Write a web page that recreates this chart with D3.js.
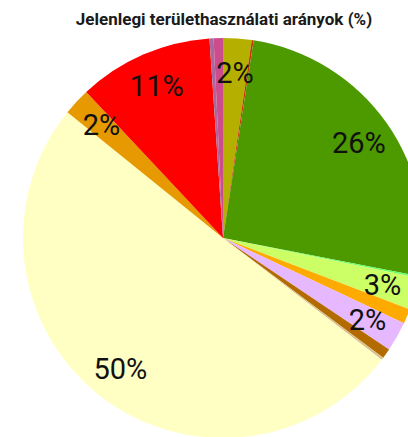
<!DOCTYPE html>
<html lang="hu">
<head>
  <meta charset="UTF-8">
  <title>Jelenlegi területhasználati arányok</title>
  <script src="https://d3js.org/d3.v7.min.js"></script>
  <style>
    body { margin: 0; background: #fff; }
    text { font-family: Roboto, "Noto Sans", sans-serif; }
  </style>
</head>
<body>
  <div id="chart"></div>

  <script>
    // Land use categories (clockwise from 12 o'clock)
    const categories = [
      "olive", "thin red", "green", "lime", "yellow-green", "orange", "lilac",
      "brown", "tan", "light yellow", "gold", "red", "mauve", "pink"
    ];
    const values = [2.3, 0.15, 25.6, 0.15, 2.6, 1.2, 2.4, 0.8, 0.2, 50.4, 2.2, 10.9, 0.33, 0.75];
    const colors = [
      "#b5b000", "#cc3300", "#4c9900", "#66ff66", "#ccff66", "#ffaa00", "#e6b8ff",
      "#b36b00", "#d9bf8c", "#ffffc4", "#e69900", "#ff0000", "#a86a9e", "#cc4c8c"
    ];
    const title = "Jelenlegi területhasználati arányok (%)";

    const width = 408, height = 437;
    const cx = 223, cy = 238, radius = 200;

    const svg = d3.select("#chart").append("svg")
      .attr("width", width)
      .attr("height", height);

    // Title
    svg.append("text")
      .attr("x", 224)
      .attr("y", 25)
      .attr("text-anchor", "middle")
      .attr("font-size", 17)
      .attr("font-weight", "bold")
      .attr("fill", "#1a1a1a")
      .text(title);

    const pie = d3.pie().sort(null).value(d => d)(values);
    const arc = d3.arc().innerRadius(0).outerRadius(radius);
    const labelArc = d3.arc().innerRadius(radius * 0.83).outerRadius(radius * 0.83);

    const g = svg.append("g")
      .attr("transform", `translate(${cx},${cy})`);

    g.selectAll("path")
      .data(pie)
      .enter().append("path")
        .attr("d", arc)
        .attr("fill", (d, i) => colors[i]);

    // Percentage labels for larger slices
    const total = d3.sum(values);
    g.selectAll(".label")
      .data(pie.filter(d => Math.round(d.value / total * 100) >= 2))
      .enter().append("text")
        .attr("class", "label")
        .attr("transform", d => `translate(${labelArc.centroid(d)})`)
        .attr("text-anchor", "middle")
        .attr("dy", "0.36em")
        .attr("font-size", 29)
        .attr("fill", "#111")
        .text(d => Math.round(d.value / total * 100) + "%");
  </script>
</body>
</html>
